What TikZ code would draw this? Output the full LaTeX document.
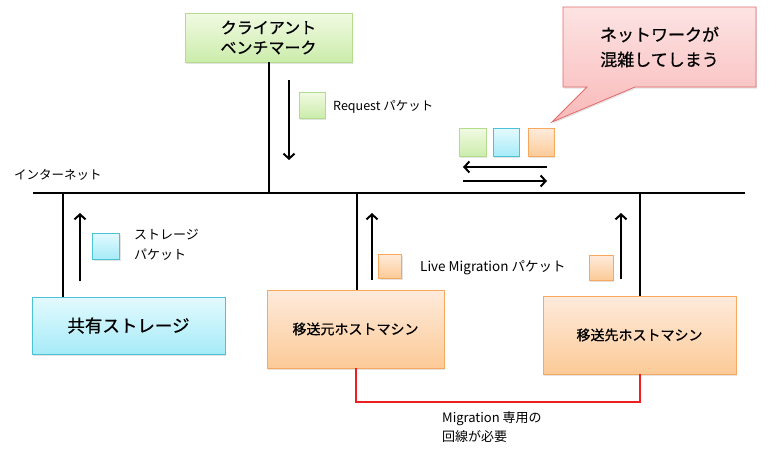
\documentclass[tikz,border=0pt]{standalone}
\usepackage{fontspec}
\setmainfont{Noto Sans CJK JP}
\newfontfamily\boxfont[FakeBold=0.8]{Noto Sans CJK JP}
\usetikzlibrary{arrows.meta,shapes.callouts,shadows}
\definecolor{greenline}{HTML}{B3DC8C}
\definecolor{greentop}{HTML}{F1FAE2}
\definecolor{greenbot}{HTML}{CBECAB}
\definecolor{cyanline}{HTML}{4CC2D5}
\definecolor{cyantop}{HTML}{E3FAFE}
\definecolor{cyanbot}{HTML}{A6EBF8}
\definecolor{orangeline}{HTML}{F8A85C}
\definecolor{orangetop}{HTML}{FEEBDC}
\definecolor{orangebot}{HTML}{FCCA97}
\definecolor{pinkline}{HTML}{E26A6A}
\definecolor{pinktop}{HTML}{FDE3E3}
\definecolor{pinkbot}{HTML}{F9B9B9}
\definecolor{migred}{HTML}{F01E1E}
\tikzset{
  box/.style={draw, line width=0.8pt, inner sep=0pt, align=center,
    drop shadow={opacity=0.22, shadow xshift=1pt, shadow yshift=-1.5pt}},
  greenbox/.style={box, draw=greenline, top color=greentop, bottom color=greenbot},
  cyanbox/.style={box, draw=cyanline, top color=cyantop, bottom color=cyanbot},
  orangebox/.style={box, draw=orangeline, top color=orangetop, bottom color=orangebot},
  pinkbox/.style={box, draw=pinkline, top color=pinktop, bottom color=pinkbot},
  wire/.style={line width=2pt},
  flow/.style={line width=2pt, -{Straight Barb[length=5pt,width=11pt]}},
  lbl/.style={inner sep=0pt, anchor=west, align=left}
}
\begin{document}
\begin{tikzpicture}[x=1pt,y=-1pt]
			\useasboundingbox (0,0) rectangle (776,464);
			% boxes
			\node[greenbox, minimum width=167, minimum height=49, font=\boxfont\fontsize{16}{20}\selectfont] (client) at (268.5,37.5) {クライアント\\ベンチマーク};
			\node[cyanbox, minimum width=193, minimum height=57, font=\boxfont\fontsize{17.5}{21}\selectfont] (storage) at (128.5,325.5) {共有ストレージ};
			\node[orangebox, minimum width=177, minimum height=78, font=\boxfont\fontsize{14}{17}\selectfont] (src) at (355.5,329) {移送元ホストマシン};
			\node[orangebox, minimum width=193, minimum height=78, font=\boxfont\fontsize{14}{17}\selectfont] (dst) at (639.5,335) {移送先ホストマシン};
			\node[rectangle callout, pinkbox, minimum width=193, minimum height=80, callout absolute pointer={(552,122)}, callout pointer width=48pt, font=\boxfont\fontsize{17}{25}\selectfont] (jam) at (659.5,47) {ネットワークが\\混雑してしまう};
			% packets
			\node[greenbox, minimum width=26, minimum height=26] (pktreq) at (312,105) {};
			\node[cyanbox, minimum width=27, minimum height=26] (pktsto) at (106,246) {};
			\node[orangebox, minimum width=23, minimum height=24] (pktsrc) at (390,266) {};
			\node[orangebox, minimum width=24, minimum height=25] (pktdst) at (601,267.5) {};
			\node[greenbox, minimum width=27, minimum height=28] (pktg) at (472.5,142.5) {};
			\node[cyanbox, minimum width=26, minimum height=28] (pktc) at (506,142.5) {};
			\node[orangebox, minimum width=26, minimum height=28] (pkto) at (541,142.5) {};
			% internet
			\coordinate (netL) at (33,193);
			\coordinate (netR) at (745,193);
			\draw[line width=2.6pt] (netL) -- (netR);
			\node[lbl, font=\fontsize{12.5}{15}\selectfont] (netlbl) at (14,175) {インターネット};
			\draw[wire] (client.south) -- (client.south |- netL);
			\coordinate (stoup) at ([xshift=31pt]storage.north west);
			\draw[wire] (stoup) -- (stoup |- netL);
			\coordinate (srcup) at ([xshift=1.5pt]src.north);
			\draw[wire] (srcup) -- (srcup |- netL);
			\draw[wire] (dst.north) -- (dst.north |- netL);
			% packet flows
			\draw[flow] (289,80) -- (289,160);
			\draw[flow] (80,281) -- (80,213);
			\draw[flow] (372,280) -- (372,213);
			\draw[flow] (621,279) -- (621,213);
			\draw[flow] (547,167) -- (463,167);
			\draw[flow] (463,181) -- (547,181);
			% labels
			\node[lbl, font=\fontsize{12.5}{15}\selectfont] (reqlbl) at (333,107) {Request パケット};
			\node[lbl, font=\fontsize{13}{20}\selectfont] (stolbl) at (134,245) {ストレージ\\パケット};
			\node[lbl, font=\fontsize{13.5}{15}\selectfont] (miglbl) at (420,268) {Live Migration パケット};
			% dedicated line
			\draw[line width=2pt, migred] (src.south) -- ++(0,34) -| (dst.south);
			\node[lbl, font=\fontsize{13}{19}\selectfont] (linelbl) at (442,427) {Migration 専用の\\回線が必要};
		\end{tikzpicture}
\end{document}
